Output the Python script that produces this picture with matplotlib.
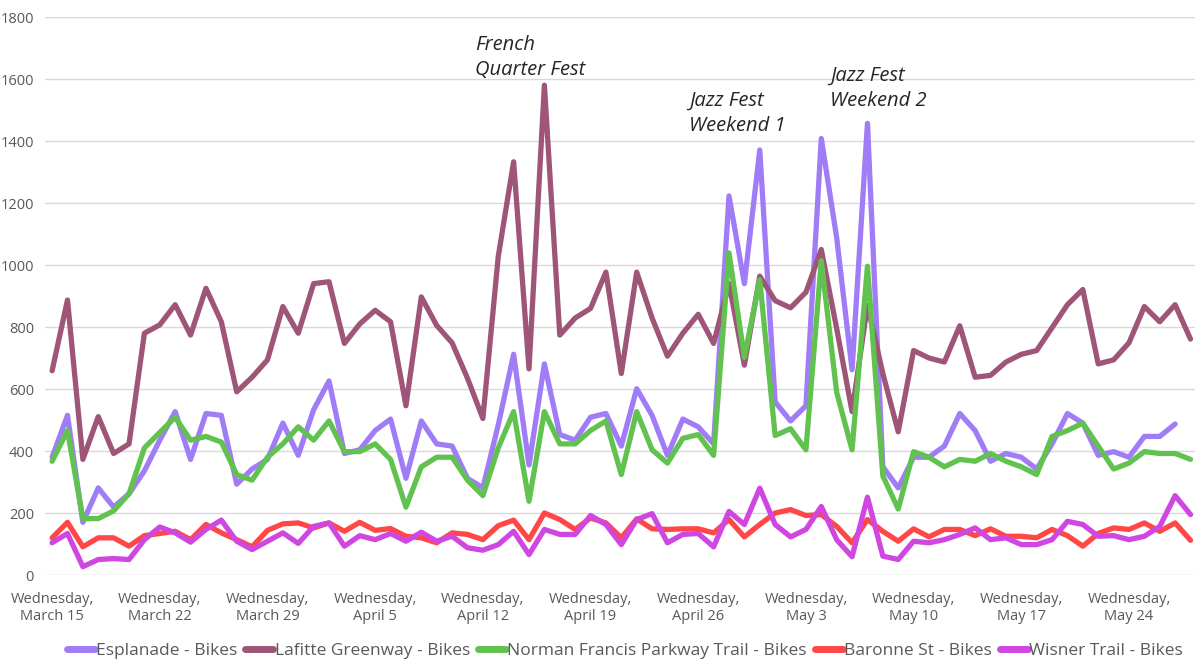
import matplotlib
matplotlib.use("Agg")
import matplotlib.pyplot as plt
import numpy as np
import pandas as pd

# daily counts, Wednesday March 15 .. Sunday May 28
dates = pd.date_range("2023-03-15", periods=75, freq="D")

esplanade = [380, 515, 170, 281, 219, 262, 336, 435, 527, 373, 521, 515, 293, 342, 373,
             490, 386, 533, 626, 392, 404, 466, 503, 312, 497, 423, 416, 312, 281, 484,
             712, 355, 681, 453, 435, 509, 521, 416, 601, 515, 386, 503, 478, 423, 1223,
             940, 1371, 558, 497, 546, 1408, 1088, 662, 1457, 349, 281, 380, 380, 416, 521,
             466, 367, 392, 380, 342, 423, 521, 490, 386, 398, 380, 447, 447, 487, np.nan]
lafitte = [659, 887, 373, 511, 392, 423, 780, 807, 872, 774, 925, 817, 591, 638, 694,
           866, 780, 940, 946, 747, 810, 854, 817, 546, 897, 805, 749, 635, 505, 1027,
           1333, 665, 1580, 774, 829, 860, 977, 650, 977, 829, 706, 780, 841, 747, 940,
           677, 964, 885, 862, 912, 1050, 795, 527, 870, 650, 462, 724, 700, 687, 804,
           638, 644, 687, 712, 724, 798, 872, 921, 681, 694, 749, 866, 817, 872, 761]
norman = [367, 466, 182, 182, 207, 262, 410, 460, 509, 435, 447, 429, 324, 306, 380,
          423, 478, 435, 497, 398, 398, 423, 373, 219, 349, 380, 380, 306, 256, 410,
          527, 238, 527, 423, 423, 466, 497, 324, 527, 404, 361, 441, 453, 386, 1039,
          702, 952, 450, 472, 404, 1014, 589, 404, 996, 320, 213, 398, 380, 349, 373,
          367, 392, 367, 349, 324, 447, 466, 490, 416, 342, 361, 398, 392, 392, 373]
baronne = [120, 170, 91, 120, 120, 93, 127, 134, 141, 114, 163, 136, 114, 91, 144,
           165, 168, 152, 168, 141, 170, 144, 150, 125, 120, 104, 136, 131, 114, 159,
           177, 114, 200, 179, 147, 184, 168, 120, 181, 149, 147, 149, 149, 136, 179,
           123, 163, 200, 211, 192, 195, 157, 104, 179, 141, 109, 149, 123, 147, 147,
           127, 149, 125, 125, 120, 147, 127, 93, 134, 152, 147, 168, 141, 168, 112]
wisner = [104, 134, 27, 50, 53, 50, 114, 155, 136, 106, 147, 177, 109, 82, 109,
          136, 102, 157, 168, 93, 127, 114, 134, 109, 138, 109, 125, 88, 80, 98,
          141, 66, 147, 131, 131, 192, 163, 98, 179, 198, 104, 131, 134, 91, 205,
          163, 280, 163, 123, 147, 221, 114, 59, 251, 61, 50, 109, 104, 114, 131,
          152, 114, 120, 98, 98, 114, 173, 163, 125, 127, 114, 125, 157, 256, 195]

series_names = ["Esplanade - Bikes", "Lafitte Greenway - Bikes",
                "Norman Francis Parkway Trail - Bikes", "Baronne St - Bikes",
                "Wisner Trail - Bikes"]
series_colors = ["#A07CF7", "#9E5577", "#62C250", "#FF4747", "#CF47E0"]

events = ["French\nQuarter Fest", "Jazz Fest\nWeekend 1", "Jazz Fest\nWeekend 2"]
event_dates = ["2023-04-11 12:00", "2023-04-25 10:00", "2023-05-04 14:00"]
event_levels = [1669, 1489, 1571]

plt.rcParams["font.family"] = ["Open Sans", "DejaVu Sans"]

fig = plt.figure(figsize=(11.95, 6.62), dpi=100)
ax = fig.add_axes([0.0377, 0.1314, 0.9623, 0.8429])

for vals, name, col in zip([esplanade, lafitte, norman, baronne, wisner],
                           series_names, series_colors):
    ax.plot(dates, vals, color=col, lw=3.8, label=name,
            solid_joinstyle="round", solid_capstyle="round")

ax.set_ylim(0, 1800)
ax.set_yticks(np.arange(0, 1801, 200))
ax.set_xlim(dates[0] - pd.Timedelta(hours=11), dates[-1] + pd.Timedelta(hours=7))
ticks = dates[::7]
ax.set_xticks(ticks)
ax.set_xticklabels([f"{d:%A},\n{d:%B} {d.day}" for d in ticks])

ax.grid(axis="y", color="#D9D9D9", lw=1)
ax.set_axisbelow(True)
for s in ax.spines.values():
    s.set_visible(False)
ax.tick_params(axis="both", length=0, colors="#595959")
ax.tick_params(axis="y", labelsize=10.5, pad=8)
ax.tick_params(axis="x", labelsize=10.5, pad=12)

for txt, d, lvl in zip(events, event_dates, event_levels):
    ax.text(pd.Timestamp(d), lvl, txt, style="italic", fontsize=14.5,
            color="#262626", va="center", ha="left", linespacing=1.35)

leg = fig.legend(loc="center", bbox_to_anchor=(0.523, 0.016), ncol=5, frameon=False,
                 fontsize=12.5, handlelength=1.6, handletextpad=0.1, columnspacing=0.45,
                 labelcolor="#595959")
for h in leg.get_lines():
    h.set_linewidth(5)

fig.savefig("out.png", dpi=100)
